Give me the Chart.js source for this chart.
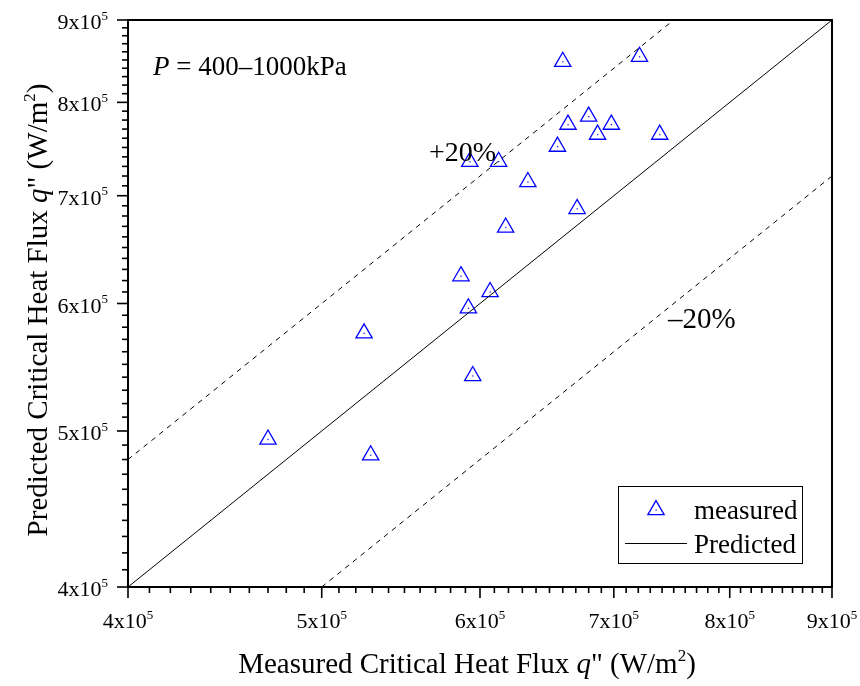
<!DOCTYPE html>
<html>
<head>
<meta charset="utf-8">
<script src="https://cdn.jsdelivr.net/npm/chart.js@4.4.1/dist/chart.umd.min.js"></script>
<style>
html, body { margin: 0; padding: 0; background: #fff; }
#wrap { width: 860px; height: 686px; }
</style>
</head>
<body>
<div id="wrap"><canvas id="chart" width="860" height="686"></canvas></div>
<script>
// measured vs predicted critical heat flux (W/m2)
const measuredX = [6.60e5, 7.21e5, 6.80e5, 6.64e5, 6.98e5, 6.87e5, 7.38e5, 6.56e5, 5.93e5, 6.13e5,
  6.34e5, 6.71e5, 6.18e5, 5.87e5, 6.07e5, 5.92e5, 5.25e5, 5.95e5, 4.70e5, 5.29e5];
const predictedY = [8.48e5, 8.54e5, 7.84e5, 7.75e5, 7.75e5, 7.64e5, 7.64e5, 7.51e5, 7.35e5, 7.35e5,
  7.14e5, 6.87e5, 6.69e5, 6.24e5, 6.10e5, 5.96e5, 5.75e5, 5.41e5, 4.94e5, 4.83e5];

// reference lines (end points)
const predLineX = [4e5, 9e5], predLineY = [4e5, 9e5];
const plusLineX = [4e5, 7.5e5], plusLineY = [4.8e5, 9e5];
const minusLineX = [5e5, 9e5], minusLineY = [4e5, 7.2e5];

const axisMin = 4e5, axisMax = 9e5;
const majorTicks = [4e5, 5e5, 6e5, 7e5, 8e5, 9e5];
const majorLabels = ['4x10', '5x10', '6x10', '7x10', '8x10', '9x10'];
const labelExp = '5';
const minorStep = 1e4;

const FONT = '"Liberation Serif", "Times New Roman", serif';
const BLUE = '#0000ff';

function pairs(xs, ys) {
  return xs.map(function(x, i) { return { x: x, y: ys[i] }; });
}

function tickList() {
  const out = [];
  for (let i = 0; axisMin + i * minorStep <= axisMax + 1; i++) out.push(axisMin + i * minorStep);
  return out;
}

function setTicks(scale) {
  scale.ticks = tickList().map(function(v) {
    return { value: v, major: majorTicks.indexOf(Math.round(v)) >= 0 };
  });
}

// draws runs of [text, style] left to right, style: 'n' normal, 'i' italic, 's' superscript
function fontFor(style, size) {
  if (style === 'i') return 'italic ' + size + 'px ' + FONT;
  if (style === 's') return Math.round(size * 0.6) + 'px ' + FONT;
  return size + 'px ' + FONT;
}
function runsWidth(ctx, runs, size) {
  let w = 0;
  runs.forEach(function(r) {
    ctx.font = fontFor(r[1], size);
    w += ctx.measureText(r[0]).width;
  });
  return w;
}
function drawRuns(ctx, runs, x, y, size) {
  ctx.textBaseline = 'alphabetic';
  ctx.textAlign = 'left';
  runs.forEach(function(r) {
    ctx.font = fontFor(r[1], size);
    const dy = r[1] === 's' ? -size * 0.42 : 0;
    ctx.fillText(r[0], x, y + dy);
    x += ctx.measureText(r[0]).width;
  });
}

const framePlugin = {
  id: 'frame',
  afterDatasetsDraw(chart) {
    const ctx = chart.ctx;
    const a = chart.chartArea;
    const xs = chart.scales.x, ys = chart.scales.y;
    ctx.save();

    // centre dots of the triangles
    const meta = chart.getDatasetMeta(3);
    ctx.fillStyle = BLUE;
    meta.data.forEach(function(p) { ctx.fillRect(p.x - 0.5, p.y - 0.5, 1.2, 1.2); });

    ctx.strokeStyle = '#000';
    ctx.fillStyle = '#000';
    ctx.lineWidth = 2;
    ctx.strokeRect(a.left, a.top, a.right - a.left, a.bottom - a.top);

    // ticks
    ctx.lineWidth = 1.6;
    xs.ticks.forEach(function(t) {
      const px = xs.getPixelForValue(t.value);
      const len = t.major ? 11 : 6;
      ctx.beginPath(); ctx.moveTo(px, a.bottom); ctx.lineTo(px, a.bottom + len); ctx.stroke();
    });
    ys.ticks.forEach(function(t) {
      const py = ys.getPixelForValue(t.value);
      const len = t.major ? 11 : 6;
      ctx.beginPath(); ctx.moveTo(a.left, py); ctx.lineTo(a.left - len, py); ctx.stroke();
    });

    // tick labels
    const ts = 22;
    majorTicks.forEach(function(v, i) {
      const runs = [[majorLabels[i], 'n'], [labelExp, 's']];
      const w = runsWidth(ctx, runs, ts);
      const px = xs.getPixelForValue(v);
      drawRuns(ctx, runs, px - w / 2, 628, ts);
      const py = ys.getPixelForValue(v);
      drawRuns(ctx, runs, a.left - 20 - w, py + 9, ts);
    });

    // axis titles
    const as = 29;
    const xt = [['Measured Critical Heat Flux ', 'n'], ['q', 'i'], ['" (W/m', 'n'], ['2', 's'], [')', 'n']];
    const xw = runsWidth(ctx, xt, as);
    drawRuns(ctx, xt, 467 - xw / 2, 673, as);
    const yt = [['Predicted Critical Heat Flux ', 'n'], ['q', 'i'], ['" (W/m', 'n'], ['2', 's'], [')', 'n']];
    const yw = runsWidth(ctx, yt, as);
    ctx.save();
    ctx.translate(47, 310);
    ctx.rotate(-Math.PI / 2);
    drawRuns(ctx, yt, -yw / 2, 0, as);
    ctx.restore();

    // annotations
    drawRuns(ctx, [['P', 'i'], [' = 400\u20131000kPa', 'n']], 153, 75, 27);
    drawRuns(ctx, [['+20%', 'n']], 429, 161, 28);
    drawRuns(ctx, [['\u201320%', 'n']], 668, 328, 29);

    // legend
    ctx.lineWidth = 1;
    ctx.strokeRect(618.5, 486.5, 184, 77);
    const lm = chart.data.datasets[3];
    const lp = chart.data.datasets[0];
    ctx.strokeStyle = BLUE;
    ctx.lineWidth = 1.3;
    const r = 9.4, cx = 656, cy = 510;
    ctx.beginPath();
    ctx.moveTo(cx, cy - r);
    ctx.lineTo(cx + r * Math.sin(2 * Math.PI / 3), cy - r * Math.cos(2 * Math.PI / 3));
    ctx.lineTo(cx + r * Math.sin(4 * Math.PI / 3), cy - r * Math.cos(4 * Math.PI / 3));
    ctx.closePath();
    ctx.stroke();
    ctx.fillStyle = BLUE;
    ctx.fillRect(cx - 0.5, cy - 0.5, 1.2, 1.2);
    ctx.strokeStyle = '#000';
    ctx.lineWidth = 1;
    ctx.beginPath(); ctx.moveTo(625, 543.5); ctx.lineTo(687, 543.5); ctx.stroke();
    ctx.fillStyle = '#000';
    drawRuns(ctx, [[lm.label, 'n']], 694, 519, 27);
    drawRuns(ctx, [[lp.label, 'n']], 694, 553, 27);

    ctx.restore();
  }
};

function logAxis() {
  return {
    type: 'logarithmic',
    display: false,
    min: axisMin,
    max: axisMax,
    ticks: { autoSkip: false },
    afterBuildTicks: setTicks
  };
}

new Chart(document.getElementById('chart'), {
  type: 'scatter',
  data: {
    datasets: [
      { label: 'Predicted', data: pairs(predLineX, predLineY), showLine: true, borderColor: '#000', borderWidth: 1, pointRadius: 0 },
      { label: '+20%', data: pairs(plusLineX, plusLineY), showLine: true, borderColor: '#000', borderWidth: 1, borderDash: [5, 5], pointRadius: 0 },
      { label: '-20%', data: pairs(minusLineX, minusLineY), showLine: true, borderColor: '#000', borderWidth: 1, borderDash: [5, 5], pointRadius: 0 },
      { label: 'measured', data: pairs(measuredX, predictedY), pointStyle: 'triangle', pointRadius: 9.4, pointBorderWidth: 1.3,
        pointBorderColor: BLUE, pointBackgroundColor: 'rgba(0,0,0,0)', borderColor: BLUE }
    ]
  },
  options: {
    responsive: false,
    animation: false,
    layout: { padding: { left: 128, right: 28, top: 20, bottom: 99 } },
    plugins: { legend: { display: false }, tooltip: { enabled: false } },
    scales: { x: logAxis(), y: logAxis() }
  },
  plugins: [framePlugin]
});
</script>
</body>
</html>
